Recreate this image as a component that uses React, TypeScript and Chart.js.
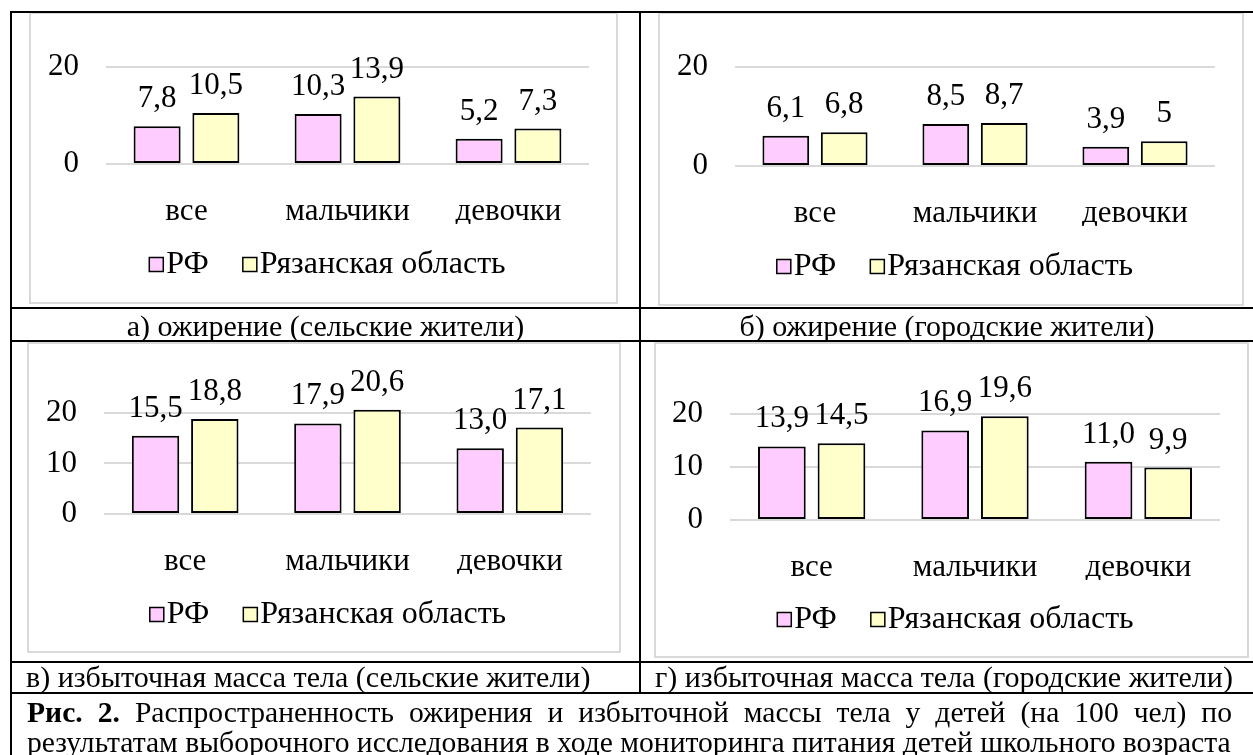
import React, { useEffect, useRef } from "react";
import { Chart, registerables } from "chart.js";

Chart.register(...registerables);

// ---------- data ----------
const categories = ["все", "мальчики", "девочки"];
const seriesNames = ["РФ", "Рязанская область"];

const obesityRuralRF = [7.8, 10.3, 5.2];
const obesityRuralRyazan = [10.5, 13.9, 7.3];
const obesityUrbanRF = [6.1, 8.5, 3.9];
const obesityUrbanRyazan = [6.8, 8.7, 5];
const overweightRuralRF = [15.5, 17.9, 13.0];
const overweightRuralRyazan = [18.8, 20.6, 17.1];
const overweightUrbanRF = [13.9, 16.9, 11.0];
const overweightUrbanRyazan = [14.5, 19.6, 9.9];

const obesityTicks = [0, 20];
const overweightTicks = [0, 10, 20];

const captionA = "а) ожирение (сельские жители)";
const captionB = "б) ожирение (городские жители)";
const captionC = "в) избыточная масса тела (сельские жители)";
const captionD = "г) избыточная масса тела (городские жители)";
const figLabel = "Рис. 2.";
const figLine1 = " Распространенность ожирения и избыточной массы тела у детей (на 100 чел) по";
const figLine2 = "результатам выборочного исследования в ходе мониторинга питания детей школьного возраста";

// ---------- styles ----------
const FONT = "'Liberation Serif', 'Times New Roman', serif";
const CHART_FONT_SIZE = 31;
const LEGEND_FONT_SIZE = 32;
const PINK = "#FFCCFF";
const YELLOW = "#FFFFCC";
const GRID = "#d9d9d9";

const valueLabelPlugin = {
  id: "valueLabels",
  afterDatasetsDraw(chart: any, _args: any, opts: any) {
    const ctx = chart.ctx;
    ctx.save();
    ctx.font = `${CHART_FONT_SIZE}px ${FONT}`;
    ctx.fillStyle = "#000";
    ctx.textAlign = "center";
    ctx.textBaseline = "alphabetic";
    chart.data.datasets.forEach((ds: any, di: number) => {
      const meta = chart.getDatasetMeta(di);
      meta.data.forEach((el: any, i: number) => {
        const v = ds.data[i] as number;
        const txt = (opts.fixed ? v.toFixed(1) : String(v)).replace(".", ",");
        ctx.fillText(txt, el.x, el.y - opts.gap);
      });
    });
    ctx.restore();
  },
};

const boxLegendPlugin = {
  id: "boxLegend",
  afterDraw(chart: any, _args: any, opts: any) {
    const ctx = chart.ctx;
    ctx.save();
    ctx.font = `${LEGEND_FONT_SIZE}px ${FONT}`;
    const box = 14;
    const gapText = 3;
    const gapItem = 34;
    const items = chart.data.datasets.map((ds: any) => ({
      text: ds.label,
      color: ds.backgroundColor,
      w: ctx.measureText(ds.label).width,
    }));
    let total = 0;
    items.forEach((it: any, i: number) => {
      total += box + gapText + it.w + (i > 0 ? gapItem : 0);
    });
    let x = chart.width / 2 + opts.shift - total / 2;
    const base = opts.baseline;
    const boxTop = base - 8.5 - box / 2;
    items.forEach((it: any) => {
      ctx.fillStyle = it.color;
      ctx.fillRect(x, boxTop, box, box);
      ctx.strokeStyle = "#000";
      ctx.lineWidth = 1.5;
      ctx.strokeRect(x, boxTop, box, box);
      ctx.fillStyle = "#000";
      ctx.textAlign = "left";
      ctx.textBaseline = "alphabetic";
      ctx.fillText(it.text, x + box + gapText, base);
      x += box + gapText + it.w + gapItem;
    });
    ctx.restore();
  },
};

type Panel = {
  left: number;
  top: number;
  width: number;
  height: number;
  padT: number;
  padR: number;
  padB: number;
  yW: number;
  max: number;
  ticks: number[];
  rf: number[];
  ry: number[];
  fixed: boolean;
  legendBase: number;
};

const panels: Panel[] = [
  { left: 29, top: 12, width: 589, height: 292, padT: 55, padR: 29, padB: 80, yW: 77, max: 20, ticks: obesityTicks, rf: obesityRuralRF, ry: obesityRuralRyazan, fixed: false, legendBase: 261 },
  { left: 658, top: 12, width: 586, height: 294, padT: 55, padR: 29, padB: 80, yW: 77, max: 20, ticks: obesityTicks, rf: obesityUrbanRF, ry: obesityUrbanRyazan, fixed: false, legendBase: 263 },
  { left: 27, top: 342, width: 594, height: 311, padT: 29.5, padR: 30, padB: 79, yW: 77, max: 25, ticks: overweightTicks, rf: overweightRuralRF, ry: overweightRuralRyazan, fixed: true, legendBase: 281 },
  { left: 654, top: 342, width: 595, height: 316, padT: 30.5, padR: 29, padB: 78, yW: 76, max: 25, ticks: overweightTicks, rf: overweightUrbanRF, ry: overweightUrbanRyazan, fixed: true, legendBase: 286 },
];

function BarPanel({ p }: { p: Panel }) {
  const ref = useRef<HTMLCanvasElement>(null);
  useEffect(() => {
    if (!ref.current) return;
    const chart = new Chart(ref.current, {
      type: "bar",
      data: {
        labels: categories,
        datasets: [
          {
            label: seriesNames[0],
            data: p.rf,
            backgroundColor: PINK,
            borderColor: "#000",
            borderWidth: 2,
            borderSkipped: false,
            categoryPercentage: 0.73,
            barPercentage: 0.8,
          },
          {
            label: seriesNames[1],
            data: p.ry,
            backgroundColor: YELLOW,
            borderColor: "#000",
            borderWidth: 2,
            borderSkipped: false,
            categoryPercentage: 0.73,
            barPercentage: 0.8,
          },
        ],
      },
      options: {
        animation: false,
        responsive: false,
        maintainAspectRatio: false,
        layout: { padding: { left: 0, right: p.padR, top: p.padT, bottom: p.padB } },
        plugins: {
          legend: { display: false },
          tooltip: { enabled: false },
          valueLabels: { fixed: p.fixed, gap: 19 },
          boxLegend: { baseline: p.legendBase, shift: 4 },
        } as any,
        scales: {
          x: {
            grid: { display: false },
            border: { display: false },
            ticks: {
              font: { family: FONT, size: CHART_FONT_SIZE },
              color: "#000",
              padding: 21,
              maxRotation: 0,
              autoSkip: false,
            },
            afterFit: (s: any) => {
              s.height = 60;
            },
          },
          y: {
            min: 0,
            max: p.max,
            grid: { color: GRID, lineWidth: 2, drawTicks: false },
            border: { display: false },
            ticks: {
              font: { family: FONT, size: CHART_FONT_SIZE },
              color: "#000",
              padding: 27,
            },
            afterBuildTicks: (s: any) => {
              s.ticks = p.ticks.map((v) => ({ value: v }));
            },
            afterFit: (s: any) => {
              s.width = p.yW;
            },
          },
        },
      },
      plugins: [valueLabelPlugin, boxLegendPlugin],
    });
    return () => chart.destroy();
  }, [p]);
  return (
    <>
      <div
        style={{
          position: "absolute",
          left: p.left,
          top: p.top,
          width: p.width,
          height: p.height,
          border: `2px solid ${GRID}`,
          boxSizing: "border-box",
        }}
      />
      <canvas
        ref={ref}
        width={p.width}
        height={p.height}
        style={{ position: "absolute", left: p.left, top: p.top, width: p.width, height: p.height }}
      />
    </>
  );
}

const line = (left: number, top: number, width: number, height: number) => (
  <div style={{ position: "absolute", left, top, width, height, background: "#000" }} />
);

const textStyle: React.CSSProperties = {
  position: "absolute",
  fontFamily: FONT,
  fontSize: 30,
  lineHeight: "30px",
  color: "#000",
  whiteSpace: "nowrap",
};

export default function App() {
  return (
    <div
      style={{
        position: "absolute",
        left: 0,
        top: 0,
        width: 1253,
        height: 755,
        background: "#fff",
        overflow: "hidden",
      }}
    >
      {panels.map((p, i) => (
        <BarPanel key={i} p={p} />
      ))}
      {line(10, 11, 1243, 2)}
      {line(10, 11, 2, 744)}
      {line(639, 11, 2, 682)}
      {line(10, 307, 1243, 2)}
      {line(10, 340, 1243, 2)}
      {line(10, 661, 1243, 2)}
      {line(10, 692, 1243, 2)}
      <div style={{ ...textStyle, left: 12, width: 627, top: 311, textAlign: "center" }}>{captionA}</div>
      <div style={{ ...textStyle, left: 641, width: 612, top: 311, textAlign: "center" }}>{captionB}</div>
      <div style={{ ...textStyle, left: 26, top: 662 }}>{captionC}</div>
      <div style={{ ...textStyle, left: 655, top: 662 }}>{captionD}</div>
      <div
        style={{
          ...textStyle,
          fontSize: 29.6,
          whiteSpace: "normal",
          left: 27,
          width: 1205,
          top: 697,
          textAlign: "justify",
          textAlignLast: "justify",
        }}
      >
        <b>{figLabel}</b>
        {figLine1}
      </div>
      <div style={{ ...textStyle, fontSize: 29.6, left: 27, top: 727 }}>{figLine2}</div>
    </div>
  );
}
